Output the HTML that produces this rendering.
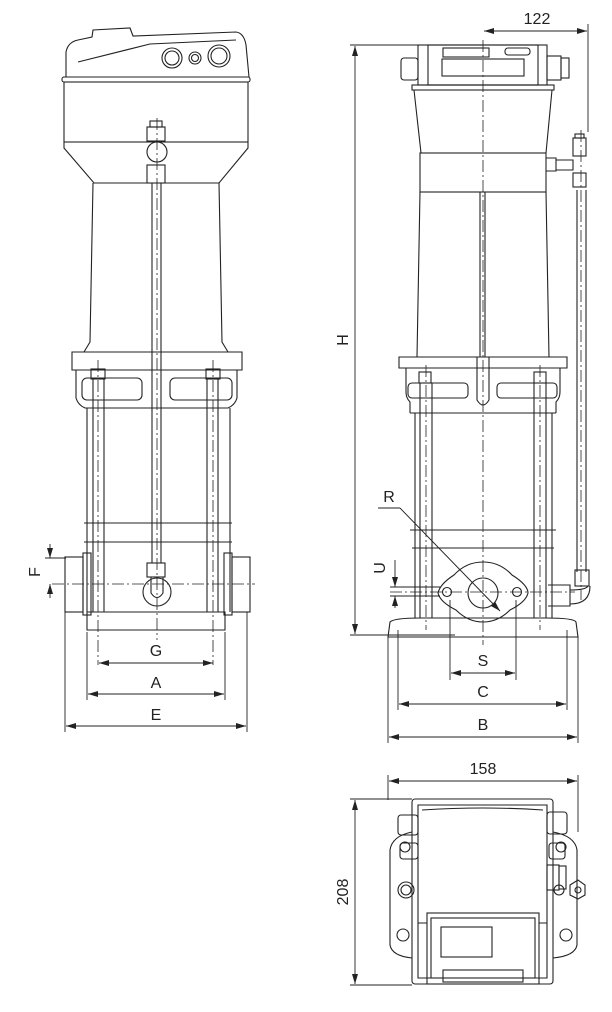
<!DOCTYPE html>
<html><head><meta charset="utf-8"><style>
html,body{margin:0;padding:0;background:#fff;}
svg{display:block;}
text{font-family:"Liberation Sans",sans-serif;font-size:16px;fill:#222;}
</style></head><body>
<svg width="612" height="1012" viewBox="0 0 612 1012" xmlns="http://www.w3.org/2000/svg">
<defs>
<marker id="ar" viewBox="0 0 10 6" refX="10" refY="3" markerWidth="10" markerHeight="6" orient="auto-start-reverse" markerUnits="userSpaceOnUse"><path d="M0,0 L10,3 L0,6 z" fill="#222"/></marker>
</defs>
<g fill="none" stroke="#222" stroke-width="1.1">
<path d="M66,77 L66,52 Q68,42 78,40 L92,37 L93,30 L130,28 L133,36 L236,32 Q244,33 246,45 L249,77"/>
<path d="M78,62 L150,44 L236,40"/>
<rect x="62" y="77" width="188" height="5" rx="2"/>
<rect x="64" y="82" width="184" height="60"/>
<circle cx="172" cy="58" r="10"/><circle cx="172" cy="58" r="7"/>
<circle cx="195" cy="58" r="6"/><circle cx="195" cy="58" r="3.5"/>
<circle cx="219" cy="56" r="11"/><circle cx="219" cy="56" r="8"/>
<path d="M64,142 L64,148 L94,183 L219,183 L248,148 L248,142"/>
<path d="M93,183 L90,342 L84,352 M219,183 L222,342 L228,352"/>
<path d="M72,352 L242,352 L242,370 L72,370 Z"/>
<rect x="82" y="378" width="60" height="22" rx="5"/>
<rect x="170" y="378" width="62" height="22" rx="5"/>
<rect x="91" y="369" width="14" height="10"/><rect x="206" y="369" width="14" height="10"/>
<path d="M76,370 L76,398 Q78,405 85,408 L228,408 Q235,405 237,398 L237,370"/>
<path d="M87,408 L87,612 M230,408 L230,612"/>
<path d="M93,378 L93,612 M104,378 L104,612 M207,378 L207,612 M218,378 L218,612"/>
<path d="M84,523 L232,523 M84,542 L232,542"/>
<path d="M152,183 L152,563 M161,183 L161,563"/>
<rect x="147" y="127" width="18" height="14"/>
<circle cx="157" cy="152" r="10"/>
<rect x="147" y="165" width="18" height="18"/>
<rect x="150" y="121" width="12" height="6"/>
<rect x="147" y="563" width="18" height="14"/>
<circle cx="157" cy="592" r="14"/>
<path d="M151,577 L151,593 Q157,602 163,593 L163,577"/>
<rect x="65" y="557" width="18" height="55"/><rect x="232" y="557" width="18" height="55"/>
<rect x="83" y="553" width="8" height="62"/><rect x="224" y="553" width="8" height="62"/>
<path d="M87,612 L225,612 L225,630 L87,630 Z"/>
</g>
<g fill="none" stroke="#222" stroke-width="0.8" stroke-dasharray="12,3,2,3">
<line x1="157" y1="118" x2="157" y2="640"/>
<line x1="98" y1="360" x2="98" y2="665"/>
<line x1="213" y1="360" x2="213" y2="665"/>
<line x1="52" y1="584" x2="255" y2="584"/>
</g>
<g stroke="#222" stroke-width="0.9" fill="none">
<line x1="99" y1="663" x2="213" y2="663" marker-start="url(#ar)" marker-end="url(#ar)"/>
<line x1="87" y1="632" x2="87" y2="700"/><line x1="225" y1="632" x2="225" y2="700"/>
<line x1="88" y1="694" x2="224" y2="694" marker-start="url(#ar)" marker-end="url(#ar)"/>
<line x1="65" y1="612" x2="65" y2="732"/><line x1="247" y1="612" x2="247" y2="732"/>
<line x1="66" y1="726" x2="246" y2="726" marker-start="url(#ar)" marker-end="url(#ar)"/>
<line x1="45" y1="558" x2="66" y2="558"/>
<line x1="50" y1="544" x2="50" y2="558" marker-end="url(#ar)"/>
<line x1="50" y1="598" x2="50" y2="584" marker-end="url(#ar)"/>
</g>
<text x="156" y="656" text-anchor="middle">G</text>
<text x="156" y="688" text-anchor="middle">A</text>
<text x="156" y="720" text-anchor="middle">E</text>
<text x="0" y="0" text-anchor="middle" transform="translate(40,572) rotate(-90)">F</text>

<g fill="none" stroke="#222" stroke-width="1.1">
<rect x="418" y="45" width="129" height="40"/>
<rect x="428" y="45" width="110" height="40"/>
<rect x="443" y="48" width="46" height="9"/>
<rect x="505" y="48" width="25" height="7" rx="3"/>
<rect x="442" y="59" width="82" height="17"/>
<rect x="401" y="58" width="17" height="22" rx="3"/><rect x="547" y="56" width="14" height="24"/><rect x="561" y="58" width="8" height="20"/>
<rect x="412" y="85" width="142" height="5"/>
<path d="M414,90 L421,153 M552,90 L546,153"/>
<rect x="420" y="153" width="126" height="39"/>
<path d="M546,158 L556,158 L556,171 L546,171 M556,160 L573,160 L573,170 L556,170"/>
<rect x="573" y="138" width="13" height="18"/><rect x="575" y="134" width="9" height="4"/>
<rect x="573" y="173" width="13" height="14"/>
<path d="M420,192 L417,357 M546,192 L549,357"/>
<path d="M480,192 L480,357 M485,192 L485,357"/>
<path d="M399,357 L567,357 L567,368 L399,368 Z"/>
<path d="M406,368 L406,392 Q406,398 410,402 L410,413 M560,368 L560,392 Q560,398 556,402 L556,413"/>
<rect x="408" y="383" width="60" height="15" rx="4"/><rect x="497" y="383" width="60" height="15" rx="4"/>
<rect x="419" y="372" width="12" height="11"/><rect x="534" y="372" width="12" height="11"/>
<path d="M477,357 L477,400 Q483,410 489,400 L489,357"/>
<path d="M410,413 L556,413"/>
<path d="M415,413 L415,618 M552,413 L552,618"/>
<path d="M420,383 L420,618 M432,383 L432,618 M534,383 L534,618 M546,383 L546,618"/>
<path d="M410,530 L556,530 M412,548 L554,548"/>
<path d="M577,190 L577,572 M586,190 L586,572"/>
<rect x="575" y="570" width="14" height="16"/>
<path d="M548,585 L570,585 L570,606 L548,606 M570,590 Q586,590 588,586 M570,604 Q590,604 590,586"/>
<path d="M483,562 Q500,562 512,575 Q528,585 528,593 Q526,602 510,610 Q498,622 483,622 Q468,622 456,610 Q440,602 438,593 Q440,584 454,575 Q466,562 483,562 Z"/>
<circle cx="483" cy="593" r="15"/>
<circle cx="447" cy="592" r="4.5"/><circle cx="517" cy="592" r="4.5"/>
<path d="M388,637 L390,622 Q394,618 420,618 L546,618 Q574,618 576,622 L578,637 Z"/>
</g>
<g fill="none" stroke="#222" stroke-width="0.8" stroke-dasharray="12,3,2,3">
<line x1="483" y1="40" x2="483" y2="645"/>
<line x1="426" y1="365" x2="426" y2="630"/>
<line x1="540" y1="365" x2="540" y2="630"/>
<line x1="581" y1="130" x2="581" y2="600"/>
<line x1="390" y1="592" x2="575" y2="592"/>
</g>
<g stroke="#222" stroke-width="0.9" fill="none">
<line x1="484" y1="31" x2="587" y2="31" marker-start="url(#ar)" marker-end="url(#ar)"/>
<line x1="588" y1="24" x2="588" y2="132"/>
<line x1="350" y1="45" x2="455" y2="45"/>
<line x1="350" y1="635" x2="455" y2="635"/>
<line x1="355" y1="46" x2="355" y2="634" marker-start="url(#ar)" marker-end="url(#ar)"/>
<line x1="378" y1="508" x2="400" y2="508"/>
<line x1="400" y1="508" x2="500" y2="611" marker-end="url(#ar)"/>
<line x1="390" y1="587" x2="440" y2="587"/><line x1="390" y1="596" x2="440" y2="596"/>
<line x1="395" y1="560" x2="395" y2="587" marker-end="url(#ar)"/>
<line x1="395" y1="608" x2="395" y2="596" marker-end="url(#ar)"/>
<line x1="450" y1="600" x2="450" y2="680"/><line x1="516" y1="600" x2="516" y2="680"/>
<line x1="451" y1="673" x2="515" y2="673" marker-start="url(#ar)" marker-end="url(#ar)"/>
<line x1="398" y1="630" x2="398" y2="710"/><line x1="567" y1="630" x2="567" y2="710"/>
<line x1="399" y1="704" x2="566" y2="704" marker-start="url(#ar)" marker-end="url(#ar)"/>
<line x1="388" y1="637" x2="388" y2="743"/><line x1="578" y1="637" x2="578" y2="743"/>
<line x1="389" y1="737" x2="577" y2="737" marker-start="url(#ar)" marker-end="url(#ar)"/>
</g>
<text x="537" y="24" text-anchor="middle">122</text>
<text x="0" y="0" text-anchor="middle" transform="translate(348,340) rotate(-90)">H</text>
<text x="389" y="502" text-anchor="middle">R</text>
<text x="0" y="0" text-anchor="middle" transform="translate(385,568) rotate(-90)">U</text>
<text x="483" y="666" text-anchor="middle">S</text>
<text x="483" y="697" text-anchor="middle">C</text>
<text x="483" y="730" text-anchor="middle">B</text>

<g fill="none" stroke="#222" stroke-width="1.1">
<path d="M412,832 Q392,836 390,850 L390,945 Q392,956 412,958"/>
<path d="M553,832 Q575,836 577,850 L577,945 Q575,956 553,958"/>
<rect x="412" y="799" width="141" height="185" rx="3"/>
<path d="M418,805 L547,805 L547,978 L418,978 Z"/>
<path d="M422,810 Q483,806 543,810"/>
<rect x="398" y="815" width="20" height="20" rx="3"/><rect x="400" y="843" width="18" height="16" rx="3"/>
<circle cx="405" cy="847" r="5"/>
<rect x="547" y="812" width="20" height="22" rx="3"/><rect x="549" y="843" width="16" height="16" rx="3"/>
<circle cx="561" cy="847" r="5"/>
<rect x="547" y="865" width="12" height="25"/><rect x="559" y="866" width="7" height="23"/>
<circle cx="406" cy="890" r="5"/><circle cx="406" cy="890" r="8"/>
<circle cx="559" cy="890" r="5"/>
<path d="M570,885 L578,880 L585,885 L585,895 L578,899 L570,895 Z"/><circle cx="578" cy="890" r="3"/>
<circle cx="403" cy="935" r="6"/><circle cx="566" cy="935" r="6"/>
<rect x="427" y="913" width="112" height="71"/>
<rect x="431" y="918" width="104" height="60"/>
<rect x="441" y="927" width="51" height="30"/>
<rect x="443" y="970" width="80" height="12"/>
<path d="M418,923 L427,923 M539,923 L547,923"/>
</g>
<g stroke="#222" stroke-width="0.9" fill="none">
<line x1="388" y1="775" x2="388" y2="800"/><line x1="578" y1="775" x2="578" y2="832"/>
<line x1="389" y1="781" x2="577" y2="781" marker-start="url(#ar)" marker-end="url(#ar)"/>
<line x1="350" y1="799" x2="412" y2="799"/><line x1="350" y1="985" x2="412" y2="985"/>
<line x1="355" y1="800" x2="355" y2="984" marker-start="url(#ar)" marker-end="url(#ar)"/>
</g>
<text x="483" y="774" text-anchor="middle">158</text>
<text x="0" y="0" text-anchor="middle" transform="translate(348,892) rotate(-90)">208</text>
</svg>
</body></html>
